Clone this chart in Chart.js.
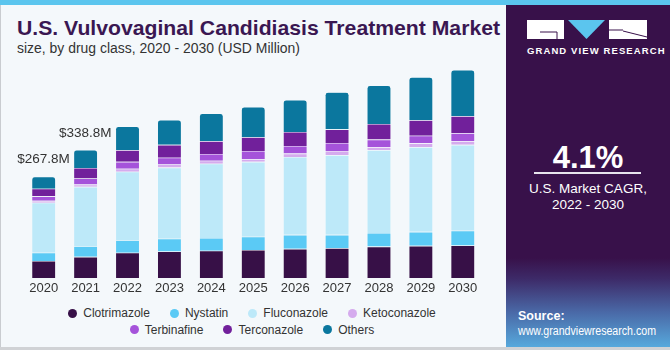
<!DOCTYPE html>
<html>
<head>
<meta charset="utf-8">
<script src="https://cdn.jsdelivr.net/npm/chart.js@4"></script>
<style>
body{margin:0;width:670px;height:350px;overflow:hidden;background:#f4f8fb;font-family:"Liberation Sans",Arial,sans-serif;position:relative}
#topbar{position:absolute;left:0;top:0;width:670px;height:5px;background:#5bc5ee}
#leftline{position:absolute;left:0;top:5px;width:1px;height:345px;background:#c9ccd0}
#bottomline{position:absolute;left:0;top:347px;width:670px;height:3px;background:#d0d2d5}
.fit{position:absolute;white-space:nowrap;transform-origin:0 50%}
#title{left:17px;top:17px;font-size:21px;font-weight:bold;color:#3a1752;line-height:22px}
#subtitle{left:17px;top:40px;font-size:14px;color:#333;line-height:16px}
#wrap{position:absolute;left:0;top:0;width:500px;height:300px}
#legend{position:absolute;left:0;top:305px;width:504px;font-size:12px;color:#333}
.row{display:flex;justify-content:center;height:16px;margin-bottom:0.5px}
.item{display:flex;align-items:center;margin:0 10px}
.dot{width:9px;height:9px;border-radius:50%;margin-right:6px}
#panel{position:absolute;left:506px;top:5px;width:164px;height:342px;
  background:linear-gradient(to bottom,#38114a 0%,#38114a 74%,#3d2a68 80%,#4a6aa8 90%,#57a9dc 100%)}
#panel .t{position:absolute;color:#fff;white-space:nowrap}
</style>
</head>
<body>
<div id="topbar"></div>
<div id="leftline"></div>
<div id="title" class="fit" data-w="483">U.S. Vulvovaginal Candidiasis Treatment Market</div>
<div id="subtitle" class="fit" data-w="283">size, by drug class, 2020 - 2030 (USD Million)</div>
<div id="wrap"><canvas id="chart"></canvas></div>
<div id="legend"></div>
<div id="panel">
  <svg style="position:absolute;left:21px;top:15px" width="122" height="20" viewBox="0 0 122 20">
    <rect x="0" y="0" width="37" height="19" fill="#fff"/>
    <path d="M13 12 H30 V19" stroke="#38114a" stroke-width="1" fill="none"/>
    <polygon points="41,0 78,0 59.5,19" fill="#5bc5ee"/>
    <rect x="82" y="0" width="38" height="19" fill="#fff"/>
    <path d="M96 11 L120 17" stroke="#38114a" stroke-width="1" fill="none"/>
    <path d="M82 10 H96" stroke="#38114a" stroke-width="1" fill="none"/>
  </svg>
  <div class="t" style="left:21px;top:40px;width:122px;text-align:center;font-size:9.5px;font-weight:bold;letter-spacing:1.1px">GRAND VIEW RESEARCH</div>
  <div class="t" style="left:0;top:135px;width:164px;text-align:center;font-size:31px;font-weight:bold">4.1%</div>
  <div style="position:absolute;left:28px;top:167px;width:107px;height:1.5px;background:#e8e4ee"></div>
  <div class="t" style="left:0;top:176px;width:164px;text-align:center;font-size:13.5px">U.S. Market CAGR,</div>
  <div class="t" style="left:0;top:192px;width:164px;text-align:center;font-size:13.5px">2022 - 2030</div>
  <div class="t" style="left:12px;top:304px;font-size:12.5px;font-weight:bold">Source:</div>
  <div class="t fit" data-w="138" style="left:12px;top:319px;font-size:12.5px">www.grandviewresearch.com</div>
</div>
<div id="bottomline"></div>
<script>
const years = ['2020','2021','2022','2023','2024','2025','2026','2027','2028','2029','2030'];
const clotrimazole = [45, 56, 67, 70, 72, 74, 77, 79, 83, 85, 86];
const nystatin     = [22, 28, 33, 34, 34, 35, 37, 35, 36, 37, 39];
const fluconazole  = [132, 157, 181, 188, 196, 198, 206, 211, 219, 224, 227];
const ketoconazole = [5, 6, 8, 8, 8, 7, 9, 11, 8, 10, 10];
const terbinafine  = [12, 16, 18, 18, 18, 22, 20, 21, 20, 20, 21];
const terconazole  = [20, 28, 31, 34, 34, 36, 37, 36, 41, 41, 45];
const others       = [31.8, 47.8, 63, 66, 73, 80, 85, 98, 102, 114, 122];
const valueLabels  = ['$267.8M', '$338.8M'];

const series = [
    { label: 'Clotrimazole', data: clotrimazole, color: '#371047' },
    { label: 'Nystatin', data: nystatin, color: '#5bcaf5' },
    { label: 'Fluconazole', data: fluconazole, color: '#bde9f9' },
    { label: 'Ketoconazole', data: ketoconazole, color: '#d5abee' },
    { label: 'Terbinafine', data: terbinafine, color: '#a553da' },
    { label: 'Terconazole', data: terconazole, color: '#71209b' },
    { label: 'Others', data: others, color: '#0b779e' }
];

// fit the texts to the widths measured on the original
document.querySelectorAll('.fit').forEach(el => {
    const w = el.getBoundingClientRect().width;
    el.style.transform = 'scaleX(' + (el.dataset.w / w) + ')';
});

// html legend, two rows like the original
const legend = document.getElementById('legend');
[series.slice(0, 4), series.slice(4)].forEach(rowItems => {
    const row = document.createElement('div');
    row.className = 'row';
    rowItems.forEach(s => {
        const item = document.createElement('div');
        item.className = 'item';
        item.innerHTML = '<span class="dot" style="background:' + s.color + '"></span>' + s.label;
        row.appendChild(item);
    });
    legend.appendChild(row);
});

const totalsPlugin = {
    id: 'totals',
    afterDatasetsDraw(chart) {
        const ctx = chart.ctx;
        const x = chart.scales.x, y = chart.scales.y;
        ctx.save();
        ctx.font = '13.5px "Liberation Sans", Arial, sans-serif';
        ctx.fillStyle = '#333';
        ctx.textAlign = 'right';
        ctx.textBaseline = 'middle';
        valueLabels.forEach((txt, i) => {
            let total = 0;
            series.forEach(s => total += s.data[i]);
            ctx.fillText(txt, x.getPixelForValue(i) + 26, y.getPixelForValue(total) - 17);
        });
        ctx.restore();
    }
};

new Chart(document.getElementById('chart').getContext('2d'), {
    type: 'bar',
    data: {
        labels: years,
        datasets: series.map((s, i) => ({
            label: s.label,
            data: s.data,
            backgroundColor: s.color,
            borderColor: 'rgba(255,255,255,0.35)',
            borderWidth: 0.6,
            borderRadius: i === series.length - 1 ? 3 : 0,
            borderSkipped: 'bottom',
            barPercentage: 0.575,
            categoryPercentage: 1
        }))
    },
    options: {
        responsive: true,
        maintainAspectRatio: false,
        animation: false,
        layout: { padding: { left: 22.75, right: 16.25, top: 51, bottom: 0.4 } },
        plugins: {
            legend: { display: false },
            tooltip: { enabled: false }
        },
        scales: {
            x: {
                stacked: true,
                grid: { display: false, drawTicks: false },
                border: { display: false },
                ticks: { color: '#333', font: { size: 13, family: '"Liberation Sans", Arial, sans-serif' }, padding: 3 }
            },
            y: {
                stacked: true,
                display: false,
                min: 0,
                max: 600
            }
        }
    },
    plugins: [totalsPlugin]
});
</script>
</body>
</html>
